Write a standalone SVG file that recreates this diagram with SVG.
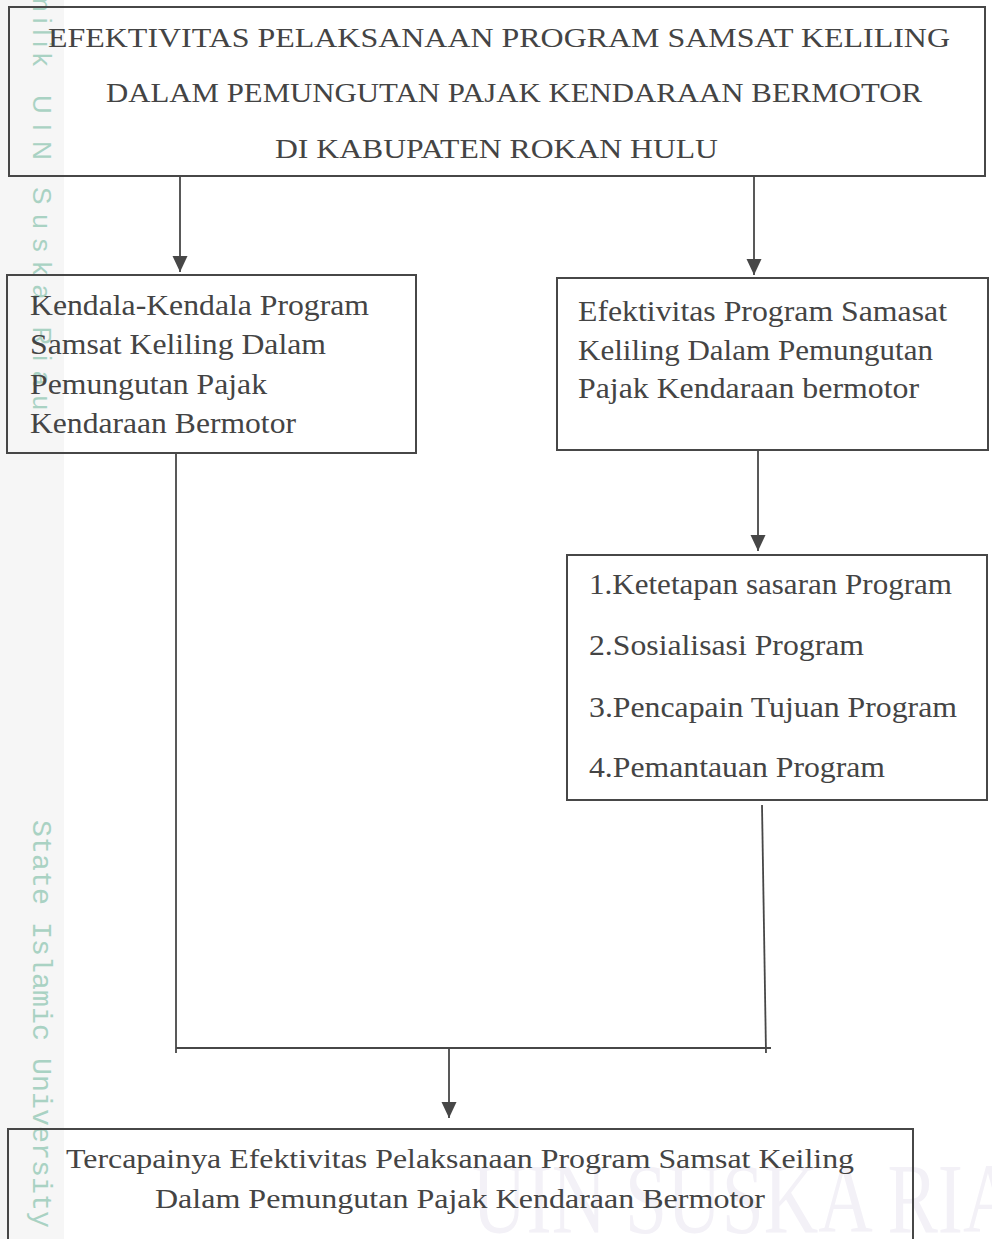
<svg xmlns="http://www.w3.org/2000/svg" width="992" height="1239" viewBox="0 0 992 1239">
<style>
.box{fill:none;stroke:#474747;stroke-width:2}
.ln{fill:none;stroke:#474747;stroke-width:1.8}
.t{font-family:"Liberation Serif","Times New Roman",serif;fill:#444}
.t28{font-size:28px}
.t30{font-size:29px}
.wm{fill:#a9d2c3}
</style>
<defs>
<marker id="ah" markerUnits="userSpaceOnUse" markerWidth="16" markerHeight="16" viewBox="0 0 16 16" refX="16" refY="8" orient="auto">
<path d="M0,0.5 L16,8 L0,15.5 Z" fill="#474747"/>
</marker>
</defs>
<rect width="992" height="1239" fill="#ffffff"/>
<g id="watermark">
<rect x="0" y="0" width="64" height="1239" fill="#f6f6f6"/>
<text class="wm" transform="translate(33,72) rotate(90)" font-family="Liberation Sans, Arial, sans-serif" font-size="26" letter-spacing="6" text-anchor="end">milik</text>
<text class="wm" transform="translate(33,95) rotate(90)" font-family="Liberation Sans, Arial, sans-serif" font-size="26" textLength="315" lengthAdjust="spacing">UIN Suska Riau</text>
<text class="wm" transform="translate(33,820) rotate(90)" font-family="Liberation Mono, Courier New, monospace" font-size="28" textLength="408" lengthAdjust="spacingAndGlyphs">State Islamic University</text>
<text x="472" y="1232" font-family="Liberation Serif, serif" font-size="100" fill="#f3f1f7" textLength="600" lengthAdjust="spacingAndGlyphs">UIN SUSKA RIAU</text>
</g>
<g id="connectors">
<line class="ln" x1="180" y1="176" x2="180" y2="272" marker-end="url(#ah)"/>
<line class="ln" x1="754" y1="177" x2="754" y2="275" marker-end="url(#ah)"/>
<line class="ln" x1="758" y1="451" x2="758" y2="551" marker-end="url(#ah)"/>
<line class="ln" x1="176" y1="453" x2="176" y2="1053"/>
<line class="ln" x1="762" y1="805" x2="766" y2="1053"/>
<line class="ln" x1="176" y1="1048" x2="771" y2="1048"/>
<line class="ln" x1="449" y1="1048" x2="449" y2="1118" marker-end="url(#ah)"/>
</g>
<g id="node-title">
<rect class="box" x="9" y="7" width="976" height="169"/>
<text class="t t28" x="48" y="47" textLength="902" lengthAdjust="spacingAndGlyphs">EFEKTIVITAS PELAKSANAAN PROGRAM SAMSAT KELILING</text>
<text class="t t28" x="106" y="102" textLength="816" lengthAdjust="spacingAndGlyphs">DALAM PEMUNGUTAN PAJAK KENDARAAN BERMOTOR</text>
<text class="t t28" x="275" y="158" textLength="443" lengthAdjust="spacingAndGlyphs">DI KABUPATEN ROKAN HULU</text>
</g>
<g id="node-kendala">
<rect class="box" x="7" y="275" width="409" height="178"/>
<text class="t t30" x="30" y="315" textLength="339" lengthAdjust="spacingAndGlyphs">Kendala-Kendala Program</text>
<text class="t t30" x="30" y="354" textLength="296" lengthAdjust="spacingAndGlyphs">Samsat Keliling Dalam</text>
<text class="t t30" x="30" y="394" textLength="237" lengthAdjust="spacingAndGlyphs">Pemungutan Pajak</text>
<text class="t t30" x="30" y="433" textLength="266" lengthAdjust="spacingAndGlyphs">Kendaraan Bermotor</text>
</g>
<g id="node-efektivitas">
<rect class="box" x="557" y="278" width="431" height="172"/>
<text class="t t30" x="578" y="321" textLength="369" lengthAdjust="spacingAndGlyphs">Efektivitas Program Samasat</text>
<text class="t t30" x="578" y="360" textLength="355" lengthAdjust="spacingAndGlyphs">Keliling Dalam Pemungutan</text>
<text class="t t30" x="578" y="398" textLength="341" lengthAdjust="spacingAndGlyphs">Pajak Kendaraan bermotor</text>
</g>
<g id="node-indikator">
<rect class="box" x="567" y="555" width="420" height="245"/>
<text class="t t30" x="589" y="594" textLength="363" lengthAdjust="spacingAndGlyphs">1.Ketetapan sasaran Program</text>
<text class="t t30" x="589" y="655" textLength="275" lengthAdjust="spacingAndGlyphs">2.Sosialisasi Program</text>
<text class="t t30" x="589" y="717" textLength="368" lengthAdjust="spacingAndGlyphs">3.Pencapain Tujuan Program</text>
<text class="t t30" x="589" y="777" textLength="296" lengthAdjust="spacingAndGlyphs">4.Pemantauan Program</text>
</g>
<g id="node-hasil">
<rect class="box" x="8" y="1129" width="905" height="130"/>
<text class="t t28" x="66" y="1168" textLength="788" lengthAdjust="spacingAndGlyphs">Tercapainya Efektivitas Pelaksanaan Program Samsat Keiling</text>
<text class="t t28" x="155" y="1208" textLength="610" lengthAdjust="spacingAndGlyphs">Dalam Pemungutan Pajak Kendaraan Bermotor</text>
</g>
</svg>
